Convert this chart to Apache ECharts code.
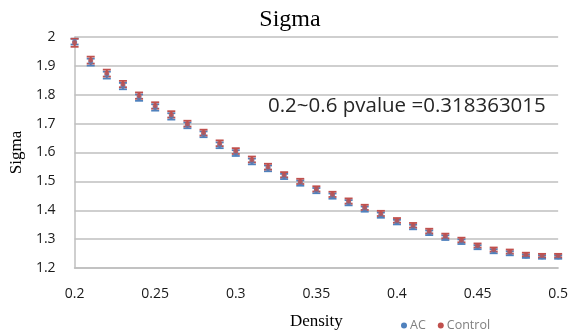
<!DOCTYPE html>
<html>
<head>
<meta charset="utf-8">
<script src="https://cdn.jsdelivr.net/npm/echarts@6/dist/echarts.min.js"></script>
<style>
  html, body { margin: 0; padding: 0; background: #fff; }
  #chart { width: 571px; height: 336px; }
</style>
</head>
<body>
<div id="chart"></div>
<script>
// Density values (x)
const density = [0.20, 0.21, 0.22, 0.23, 0.24, 0.25, 0.26, 0.27, 0.28, 0.29,
                 0.30, 0.31, 0.32, 0.33, 0.34, 0.35, 0.36, 0.37, 0.38, 0.39,
                 0.40, 0.41, 0.42, 0.43, 0.44, 0.45, 0.46, 0.47, 0.48, 0.49, 0.50];

// Mean sigma per density, AC group
const acMean = [1.984, 1.913, 1.868, 1.830, 1.790, 1.756, 1.725, 1.694, 1.663, 1.625,
                1.598, 1.569, 1.545, 1.517, 1.494, 1.468, 1.449, 1.426, 1.404, 1.383,
                1.359, 1.342, 1.322, 1.305, 1.291, 1.272, 1.258, 1.251, 1.241, 1.238, 1.238];
// Standard error, AC group
const acErr = [0.010, 0.012, 0.012, 0.011, 0.011, 0.011, 0.011, 0.010, 0.010, 0.010,
               0.010, 0.010, 0.010, 0.009, 0.009, 0.009, 0.009, 0.009, 0.009, 0.009,
               0.008, 0.008, 0.008, 0.008, 0.008, 0.007, 0.007, 0.007, 0.006, 0.006, 0.006];

// Mean sigma per density, Control group
const ctrlMean = [1.980, 1.920, 1.875, 1.837, 1.797, 1.763, 1.732, 1.700, 1.669, 1.632,
                  1.605, 1.576, 1.551, 1.523, 1.500, 1.474, 1.455, 1.432, 1.410, 1.389,
                  1.365, 1.348, 1.328, 1.311, 1.297, 1.278, 1.264, 1.257, 1.247, 1.243, 1.243];
// Standard error, Control group
const ctrlErr = [0.014, 0.012, 0.012, 0.011, 0.011, 0.011, 0.011, 0.010, 0.010, 0.010,
                 0.010, 0.010, 0.010, 0.009, 0.009, 0.009, 0.009, 0.009, 0.009, 0.009,
                 0.008, 0.008, 0.008, 0.008, 0.008, 0.007, 0.007, 0.007, 0.006, 0.006, 0.006];

const xTicks = { min: 0.2, max: 0.5, interval: 0.05 };
const yTicks = { min: 1.2, max: 2.0, interval: 0.1 };

const seriesNames = ['AC', 'Control'];
const pvalueNote = '0.2~0.6 pvalue =0.318363015';

const AC_COLOR = '#4f81bd';
const CTRL_COLOR = '#c0504d';

function points(means) {
  return density.map((d, i) => [d, means[i]]);
}
function bars(means, errs) {
  return density.map((d, i) => [d, means[i] - errs[i], means[i] + errs[i]]);
}

// Draws a vertical error bar with caps at both ends
function errorBarRenderer(color) {
  return function (params, api) {
    const x = api.value(0);
    const lo = api.coord([x, api.value(1)]);
    const hi = api.coord([x, api.value(2)]);
    const half = 4;
    const style = { stroke: color, lineWidth: 1.8 };
    return {
      type: 'group',
      children: [
        { type: 'line', shape: { x1: lo[0], y1: lo[1], x2: hi[0], y2: hi[1] }, style },
        { type: 'line', shape: { x1: lo[0] - half, y1: lo[1], x2: lo[0] + half, y2: lo[1] }, style },
        { type: 'line', shape: { x1: hi[0] - half, y1: hi[1], x2: hi[0] + half, y2: hi[1] }, style }
      ]
    };
  };
}

const fmt = v => String(parseFloat(v.toFixed(2)));

const chart = echarts.init(document.getElementById('chart'), null, { renderer: 'canvas' });

chart.setOption({
  animation: false,
  backgroundColor: '#ffffff',
  title: {
    text: 'Sigma',
    left: 285,
    textAlign: 'center',
    top: 3,
    textStyle: { fontFamily: 'Liberation Serif', fontWeight: 'normal', fontSize: 24, color: '#000' }
  },
  legend: {
    data: seriesNames,
    left: 396,
    top: 314,
    itemWidth: 6,
    itemHeight: 6,
    itemGap: 12,
    icon: 'circle',
    textStyle: { fontFamily: 'Open Sans', fontSize: 12.5, color: '#7f7f7f', padding: [0, 0, 0, -2] }
  },
  grid: { left: 70, right: 10, top: 37, bottom: 68 },
  xAxis: {
    type: 'value',
    min: xTicks.min,
    max: xTicks.max,
    interval: xTicks.interval,
    name: 'Density',
    nameLocation: 'middle',
    nameGap: 45,
    nameTextStyle: { fontFamily: 'Liberation Serif', fontSize: 17, color: '#000' },
    axisLine: { show: true, lineStyle: { color: '#bfbfbf', width: 1.5 } },
    axisTick: { show: false },
    splitLine: { show: false },
    axisLabel: { formatter: fmt, fontFamily: 'Open Sans', fontSize: 14, color: '#1a1a1a', margin: 19, showMaxLabel: true }
  },
  yAxis: {
    type: 'value',
    min: yTicks.min,
    max: yTicks.max,
    interval: yTicks.interval,
    name: 'Sigma',
    nameLocation: 'middle',
    nameGap: 46,
    nameTextStyle: { fontFamily: 'Liberation Serif', fontSize: 17, color: '#000' },
    axisLine: { show: true, lineStyle: { color: '#bfbfbf', width: 1.5 } },
    axisTick: { show: false },
    splitLine: { show: true, lineStyle: { color: '#bfbfbf', width: 1.5 } },
    axisLabel: { formatter: fmt, fontFamily: 'Open Sans', fontSize: 14, color: '#1a1a1a', margin: 19 }
  },
  graphic: [{
    type: 'text',
    left: 268,
    top: 96,
    style: { text: pvalueNote, fontFamily: 'Open Sans', fontSize: 20.5, fill: '#262626' }
  }],
  series: [
    {
      name: 'AC',
      type: 'custom',
      renderItem: errorBarRenderer(AC_COLOR),
      itemStyle: { color: AC_COLOR },
      encode: { x: 0, y: [1, 2] },
      data: bars(acMean, acErr),
      z: 2,
      silent: true
    },
    {
      name: 'Control',
      type: 'custom',
      renderItem: errorBarRenderer(CTRL_COLOR),
      itemStyle: { color: CTRL_COLOR },
      encode: { x: 0, y: [1, 2] },
      data: bars(ctrlMean, ctrlErr),
      z: 3,
      silent: true
    },
    {
      name: 'AC',
      type: 'scatter',
      symbol: 'circle',
      symbolSize: 5,
      itemStyle: { color: AC_COLOR },
      data: points(acMean),
      z: 4
    },
    {
      name: 'Control',
      type: 'scatter',
      symbol: 'circle',
      symbolSize: 5,
      itemStyle: { color: CTRL_COLOR, opacity: 0.8 },
      data: points(ctrlMean),
      z: 5
    }
  ]
});
</script>
</body>
</html>
